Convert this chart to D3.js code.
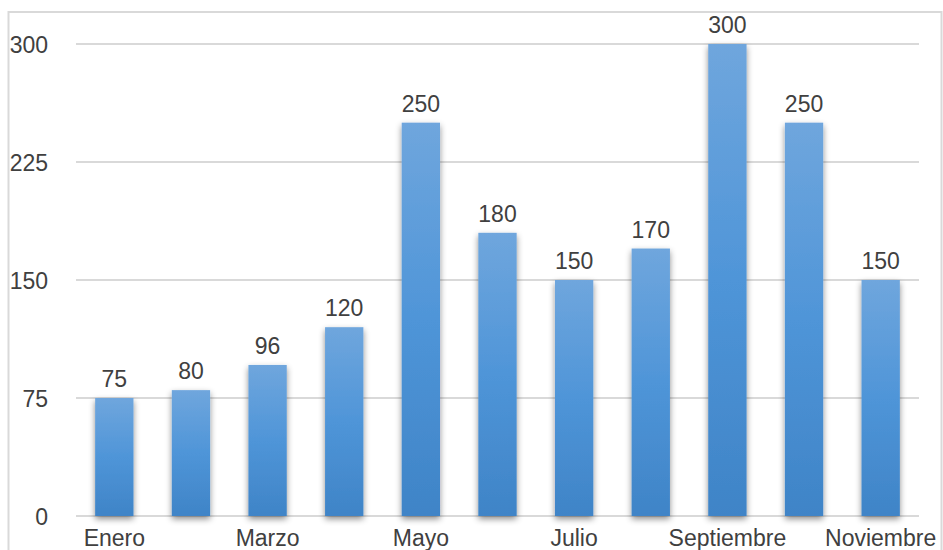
<!DOCTYPE html>
<html>
<head>
<meta charset="utf-8">
<script src="https://cdn.jsdelivr.net/npm/d3@7"></script>
<style>
  body { margin: 0; background: #fff; }
  text { font-family: "Liberation Sans", Arial, sans-serif; fill: #404040; }
</style>
</head>
<body>
<svg id="chart" width="943" height="550"></svg>
<script>
// chart data
const months = ['Enero', 'Febrero', 'Marzo', 'Abril', 'Mayo', 'Junio',
  'Julio', 'Agosto', 'Septiembre', 'Octubre', 'Noviembre'];
const values = [75, 80, 96, 120, 250, 180, 150, 170, 300, 250, 150];
const yTicks = [0, 75, 150, 225, 300];

const width = 943;
const height = 550;
const margin = {top: 44, right: 24, bottom: 34, left: 76};
const fontSize = 23;

const svg = d3.select('#chart');
const defs = svg.append('defs');

// Bar gradient, lighter at the top
const grad = defs.append('linearGradient')
    .attr('id', 'barGrad')
    .attr('x1', 0).attr('y1', 0).attr('x2', 0).attr('y2', 1);
grad.append('stop').attr('offset', '0%').attr('stop-color', '#6fa6dd');
grad.append('stop').attr('offset', '50%').attr('stop-color', '#4f95d8');
grad.append('stop').attr('offset', '100%').attr('stop-color', '#3f84c7');

const shadow = defs.append('filter')
    .attr('id', 'shadow')
    .attr('x', '-50%').attr('y', '-10%')
    .attr('width', '200%').attr('height', '130%');
shadow.append('feDropShadow')
    .attr('dx', 0).attr('dy', 3)
    .attr('stdDeviation', 3)
    .attr('flood-color', '#000')
    .attr('flood-opacity', 0.45);

// Outer frame of the chart area
svg.append('rect')
    .attr('x', 8.5).attr('y', 12)
    .attr('width', 933).attr('height', 560)
    .attr('fill', 'none')
    .attr('stroke', '#d9d9d9')
    .attr('stroke-width', 2);

const x = d3.scaleBand()
    .domain(months)
    .range([margin.left, width - margin.right])
    .paddingInner(0.5)
    .paddingOuter(0.25);

const y = d3.scaleLinear()
    .domain([0, 300])
    .range([height - margin.bottom, margin.top]);

// Gridlines
svg.append('g')
    .selectAll('line')
    .data(yTicks)
    .join('line')
    .attr('x1', margin.left)
    .attr('x2', width - margin.right)
    .attr('y1', (d) => y(d))
    .attr('y2', (d) => y(d))
    .attr('stroke', '#d9d9d9')
    .attr('stroke-width', 2);

// Y tick labels
svg.append('g')
    .selectAll('text')
    .data(yTicks)
    .join('text')
    .attr('x', 48)
    .attr('y', (d) => y(d) + 9)
    .attr('text-anchor', 'end')
    .style('font-size', fontSize + 'px')
    .text((d) => d);

// Bars
svg.append('g')
    .selectAll('rect')
    .data(values)
    .join('rect')
    .attr('x', (d, i) => x(months[i]))
    .attr('y', (d) => y(d))
    .attr('width', x.bandwidth())
    .attr('height', (d) => y(0) - y(d))
    .attr('fill', 'url(#barGrad)')
    .attr('filter', 'url(#shadow)');

// Value labels
svg.append('g')
    .selectAll('text')
    .data(values)
    .join('text')
    .attr('x', (d, i) => x(months[i]) + x.bandwidth() / 2)
    .attr('y', (d) => y(d) - 11)
    .attr('text-anchor', 'middle')
    .style('font-size', fontSize + 'px')
    .text((d) => d);

// X labels, every other month
svg.append('g')
    .selectAll('text')
    .data(months.filter((m, i) => i % 2 === 0))
    .join('text')
    .attr('x', (d) => x(d) + x.bandwidth() / 2)
    .attr('y', 546)
    .attr('text-anchor', 'middle')
    .style('font-size', fontSize + 'px')
    .text((d) => d);
</script>
</body>
</html>
